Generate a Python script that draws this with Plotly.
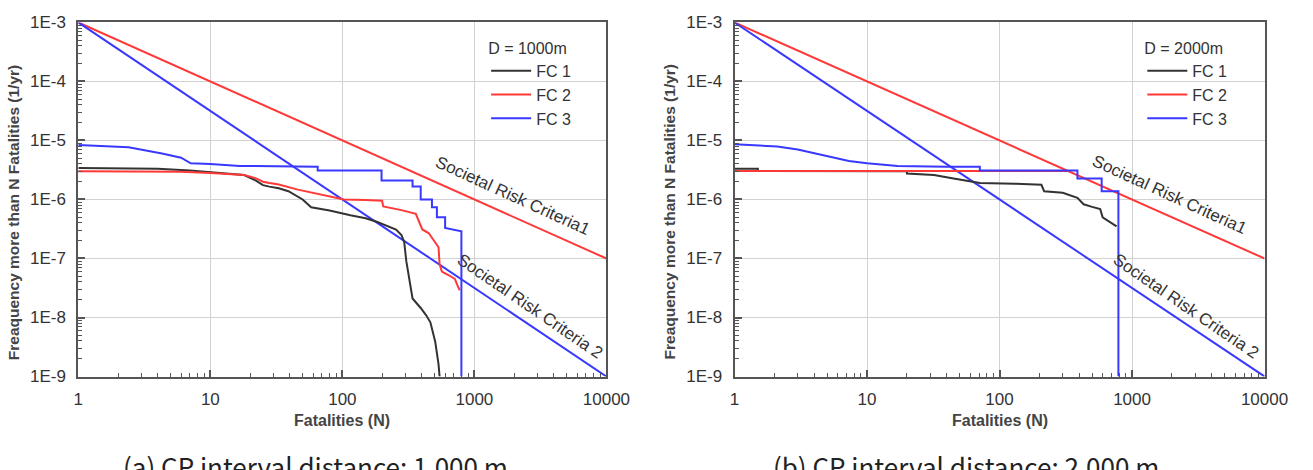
import numpy as np
import plotly.graph_objects as go

# ---------------- data ----------------
N_RANGE = [1, 10000]
CRIT1_F0 = 1e-3   # criteria 1: F = 1e-3 / N
CRIT1_EXP = 1.0
CRIT2_F0 = 1e-3   # criteria 2: F = 1e-3 / N^1.5
CRIT2_EXP = 1.5

# Panel (a) D = 1000 m
a_fc1_n = [1, 2, 4, 7, 10, 14, 18, 22, 25, 28, 33, 39, 50, 58, 80, 115, 150, 182, 220, 255, 280, 294,
           305, 321, 340, 392, 430, 464, 505, 535, 545]
a_fc1_f = [3.4e-6, 3.35e-6, 3.3e-6, 3.1e-6, 2.9e-6, 2.75e-6, 2.6e-6, 2.1e-6, 1.75e-6, 1.65e-6, 1.55e-6,
           1.38e-6, 1.0e-6, 7.4e-7, 6.5e-7, 5.4e-7, 4.8e-7, 4.2e-7, 3.6e-7, 3.1e-7, 2.5e-7, 1.9e-7,
           9e-8, 4.2e-8, 2.1e-8, 1.45e-8, 1.1e-8, 8.3e-9, 3.9e-9, 1.6e-9, 1e-9]
a_fc2_n = [1, 3, 6, 10, 15, 18, 22, 25, 28, 33, 46, 70, 103, 150, 200, 204, 280, 360, 380, 403, 450,
           535, 545, 567, 640, 711, 740, 774]
a_fc2_f = [3.0e-6, 3.0e-6, 2.95e-6, 2.8e-6, 2.7e-6, 2.6e-6, 2.3e-6, 2.0e-6, 1.9e-6, 1.8e-6, 1.47e-6,
           1.2e-6, 1.0e-6, 9.8e-7, 9.5e-7, 7.6e-7, 6.6e-7, 5.7e-7, 4.2e-7, 3.1e-7, 2.7e-7, 1.55e-7,
           8e-8, 6e-8, 5.2e-8, 4.5e-8, 3.6e-8, 2.9e-8]
a_fc3_n = [1, 2.4, 4.3, 6, 7.1, 10, 16.7, 30, 65, 65, 198, 198, 340, 340, 392, 392, 477, 477, 520, 520,
           600, 600, 797, 797]
a_fc3_f = [8.4e-6, 7.7e-6, 6.0e-6, 5.1e-6, 4.1e-6, 4.0e-6, 3.7e-6, 3.7e-6, 3.6e-6, 3.1e-6, 3.1e-6,
           2.1e-6, 2.1e-6, 1.66e-6, 1.66e-6, 1.0e-6, 1.0e-6, 7.4e-7, 7.4e-7, 5e-7, 5e-7, 3.3e-7,
           2.9e-7, 1e-9]

# Panel (b) D = 2000 m
b_fc1_n = [1, 1.5, 1.5, 20, 20, 32, 45, 71, 130, 207, 217, 300, 387, 431, 500, 575, 600, 680, 764]
b_fc1_f = [3.3e-6, 3.3e-6, 3.05e-6, 3.0e-6, 2.75e-6, 2.6e-6, 2.26e-6, 1.9e-6, 1.85e-6, 1.77e-6,
           1.38e-6, 1.3e-6, 1.07e-6, 8.3e-7, 7.5e-7, 6.9e-7, 5e-7, 4.2e-7, 3.5e-7]
b_fc2_n = [1, 330]
b_fc2_f = [3.05e-6, 3.05e-6]
b_fc3_n = [1, 2.1, 3, 4.4, 6, 7.3, 10, 17, 40, 71, 71, 387, 387, 590, 590, 789, 789]
b_fc3_f = [8.6e-6, 7.9e-6, 7.0e-6, 5.8e-6, 5.0e-6, 4.5e-6, 4.1e-6, 3.7e-6, 3.6e-6, 3.6e-6, 3.1e-6,
           3.1e-6, 2.26e-6, 2.26e-6, 1.38e-6, 1.38e-6, 1e-9]

series_names = ["FC 1", "FC 2", "FC 3"]
panel_titles = ["D = 1000m", "D = 2000m"]
captions = ["(a) CP interval distance: 1,000 m", "(b) CP interval distance: 2,000 m"]
crit1_label = "Societal Risk Criteria1"
crit2_label = "Societal Risk Criteria 2"
x_ticks = [1, 10, 100, 1000, 10000]
x_ticktext = ["1", "10", "100", "1000", "10000"]
y_ticks = [1e-9, 1e-8, 1e-7, 1e-6, 1e-5, 1e-4, 1e-3]
y_ticktext = ["1E-9", "1E-8", "1E-7", "1E-6", "1E-5", "1E-4", "1E-3"]
x_title = "Fatalities (N)"
y_title = "Freaquency more than N Fatalities (1/yr)"

# ---------------- styling / layout ----------------
W, H = 1313, 470
FONT = "Arial, Liberation Sans, sans-serif"
COL = {"FC 1": "#333333", "FC 2": "#ff3838", "FC 3": "#3838ff"}
TXT = "#333333"
AX = "#555555"

plot_px = [(75, 615), (746, 1288)]
top_px, bot_px = 14, 383


def px2paper_x(px):
    return px / W


def px2paper_y(py):
    return 1 - py / H


fig = go.Figure()

panels = [
    ((a_fc1_n, a_fc1_f), (a_fc2_n, a_fc2_f), (a_fc3_n, a_fc3_f)),
    ((b_fc1_n, b_fc1_f), (b_fc2_n, b_fc2_f), (b_fc3_n, b_fc3_f)),
]

crit_n = np.array(N_RANGE, dtype=float)
for i, panel in enumerate(panels):
    xa = "x" if i == 0 else "x2"
    ya = "y" if i == 0 else "y2"
    leg = "legend" if i == 0 else "legend2"
    fig.add_trace(go.Scatter(x=crit_n, y=CRIT1_F0 / crit_n ** CRIT1_EXP, mode="lines",
                             line=dict(color=COL["FC 2"], width=2), showlegend=False,
                             xaxis=xa, yaxis=ya, hoverinfo="skip"))
    fig.add_trace(go.Scatter(x=crit_n, y=CRIT2_F0 / crit_n ** CRIT2_EXP, mode="lines",
                             line=dict(color=COL["FC 3"], width=2), showlegend=False,
                             xaxis=xa, yaxis=ya, hoverinfo="skip"))
    for name, (n, f) in zip(series_names, panel):
        fig.add_trace(go.Scatter(x=n, y=f, mode="lines", name=name,
                                 line=dict(color=COL[name], width=2),
                                 xaxis=xa, yaxis=ya, legend=leg))

minor_x = [m * 10 ** d for d in range(0, 4) for m in range(2, 10)]
minor_y = [m * 10.0 ** d for d in range(-9, -3) for m in range(2, 10)]


def xaxis_cfg(i):
    x0, x1 = plot_px[i]
    return dict(type="log", range=[0, 4], domain=[px2paper_x(x0), px2paper_x(x1)],
                anchor="y" if i == 0 else "y2",
                tickmode="array", tickvals=x_ticks, ticktext=x_ticktext,
                ticks="inside", ticklen=7, tickwidth=1.5, tickcolor=AX,
                showline=True, linecolor=AX, linewidth=2, mirror=True,
                showgrid=True, gridcolor="#d2d2d2", gridwidth=1, zeroline=False,
                tickfont=dict(family=FONT, size=17, color=TXT), ticklabelstandoff=6,
                minor=dict(tickmode="array", tickvals=minor_x, ticks="inside", ticklen=4,
                           tickwidth=1, tickcolor=AX, showgrid=False))


def yaxis_cfg(i):
    return dict(type="log", range=[-9, -3], domain=[px2paper_y(bot_px), px2paper_y(top_px)],
                anchor="x" if i == 0 else "x2",
                tickmode="array", tickvals=y_ticks, ticktext=y_ticktext,
                ticks="inside", ticklen=7, tickwidth=1.5, tickcolor=AX,
                showline=True, linecolor=AX, linewidth=2, mirror=True,
                showgrid=True, gridcolor="#d2d2d2", gridwidth=1, zeroline=False,
                tickfont=dict(family=FONT, size=17, color=TXT), ticklabelstandoff=7,
                minor=dict(tickmode="array", tickvals=minor_y, ticks="inside", ticklen=4,
                           tickwidth=1, tickcolor=AX, showgrid=False))


def legend_cfg(i, title):
    lx = [492, 1163][i]
    return dict(x=px2paper_x(lx), y=px2paper_y(25), xanchor="left", yanchor="top",
                xref="paper", yref="paper",
                title=dict(text=title, font=dict(family=FONT, size=16, color=TXT)),
                font=dict(family=FONT, size=16, color=TXT), bgcolor="rgba(0,0,0,0)",
                borderwidth=0, tracegroupgap=0, itemwidth=40)


annotations = []
ang1 = float(np.degrees(np.arctan((bot_px - top_px) / 6 * CRIT1_EXP / ((plot_px[0][1] - plot_px[0][0]) / 4))))
ang2 = float(np.degrees(np.arctan((bot_px - top_px) / 6 * CRIT2_EXP / ((plot_px[0][1] - plot_px[0][0]) / 4))))
lab_pos = [((3.285, -5.94), (3.422, -7.813)), ((3.28, -5.91), (3.41, -7.813))]
for i in range(2):
    xr = "x" if i == 0 else "x2"
    yr = "y" if i == 0 else "y2"
    (c1x, c1y), (c2x, c2y) = lab_pos[i]
    annotations.append(dict(x=c1x, y=c1y, xref=xr, yref=yr, text=crit1_label, showarrow=False,
                            textangle=ang1, font=dict(family=FONT, size=17, color=TXT)))
    annotations.append(dict(x=c2x, y=c2y, xref=xr, yref=yr, text=crit2_label, showarrow=False,
                            textangle=ang2, font=dict(family=FONT, size=17, color=TXT)))
    x0, x1 = plot_px[i]
    annotations.append(dict(x=px2paper_x((x0 + x1) / 2), y=px2paper_y(429), xref="paper", yref="paper",
                            text=x_title, showarrow=False, xanchor="center", yanchor="middle",
                            font=dict(family=FONT, size=16, color="#444444", weight="bold")))
    annotations.append(dict(x=px2paper_x([9, 679][i]), y=px2paper_y(212), xref="paper", yref="paper",
                            text=y_title, showarrow=False, textangle=-90, xanchor="center",
                            yanchor="middle",
                            font=dict(family=FONT, size=15.5, color="#444444", weight="bold")))
    annotations.append(dict(x=px2paper_x([318, 983][i]), y=px2paper_y(454), xref="paper", yref="paper",
                            text=captions[i], showarrow=False, xanchor="center", yanchor="top",
                            font=dict(family="Noto Sans CJK KR, Noto Sans, sans-serif", size=26,
                                      color="#222222")))

fig.update_layout(
    width=W, height=H, margin=dict(l=0, r=0, t=0, b=0),
    paper_bgcolor="white", plot_bgcolor="white",
    xaxis=xaxis_cfg(0), yaxis=yaxis_cfg(0), xaxis2=xaxis_cfg(1), yaxis2=yaxis_cfg(1),
    legend=legend_cfg(0, panel_titles[0]), legend2=legend_cfg(1, panel_titles[1]),
    annotations=annotations, showlegend=True,
)

fig.write_html("out.html")
